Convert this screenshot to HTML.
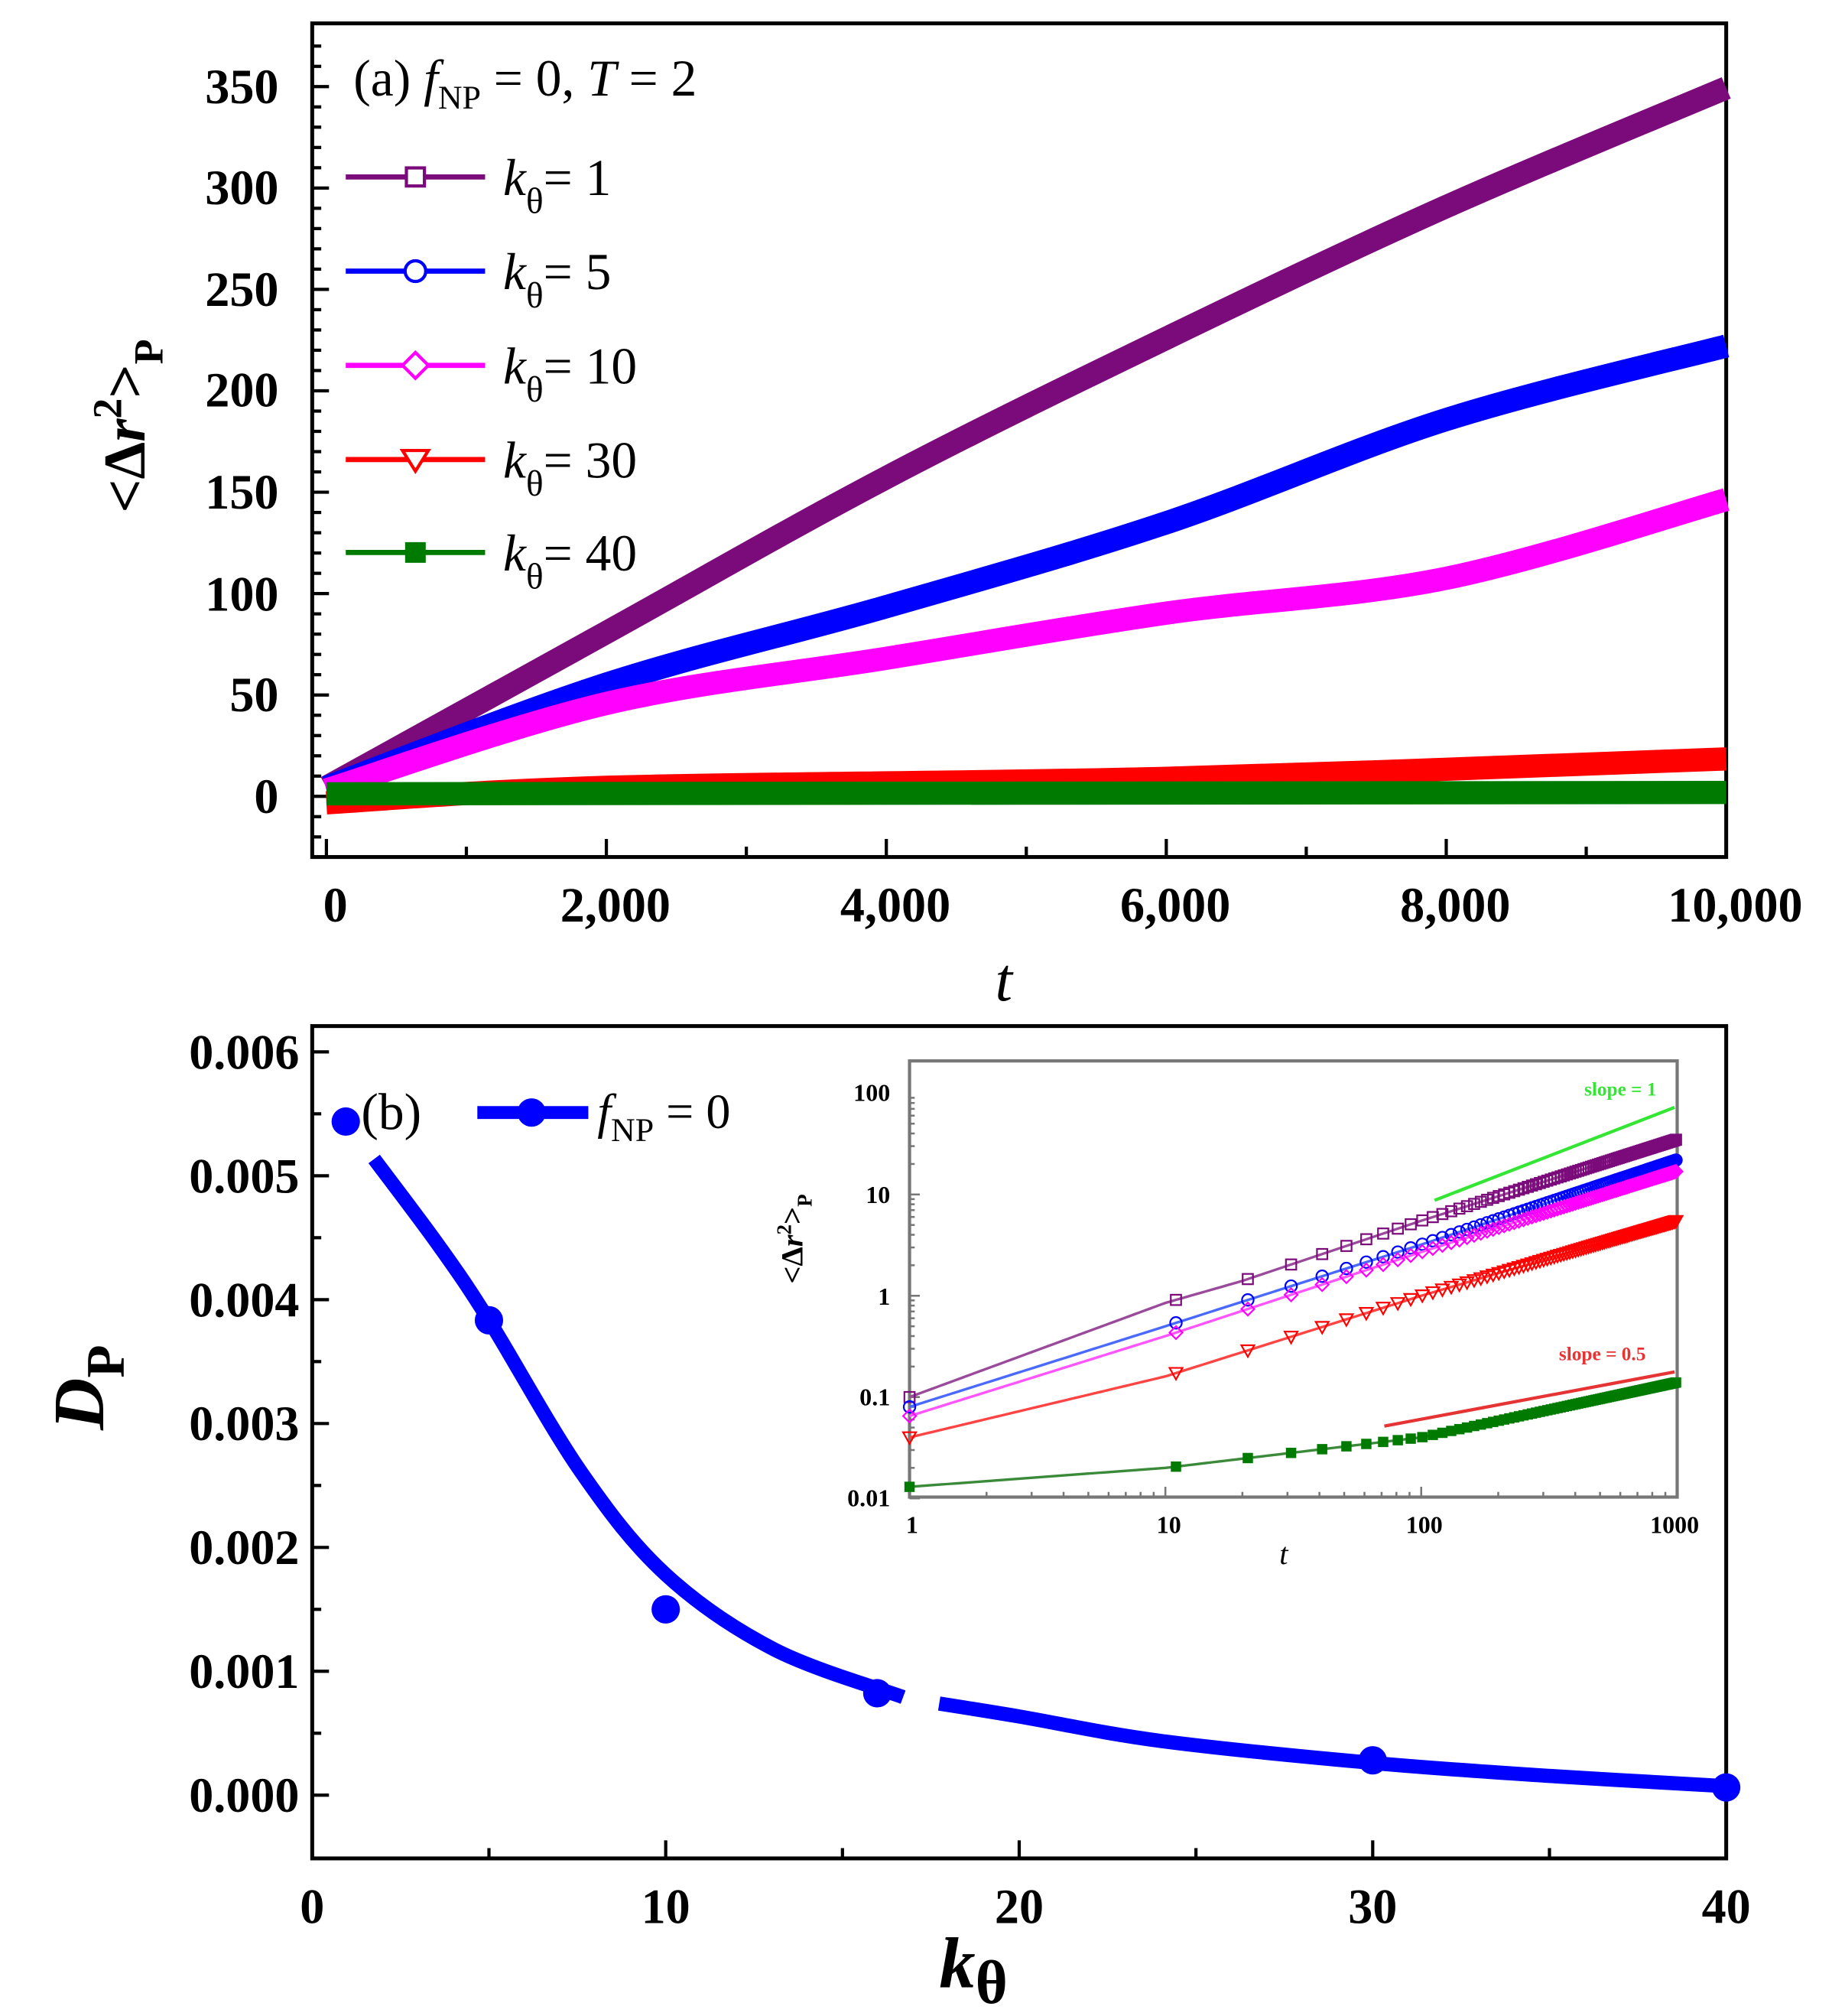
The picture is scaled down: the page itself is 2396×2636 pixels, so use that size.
<!DOCTYPE html>
<html><head><meta charset="utf-8"><style>
html,body{margin:0;padding:0;background:#fff}
svg{display:block}
text{font-family:"Liberation Serif",serif}
.tk{font-weight:bold;font-size:38px}
.it{font-weight:bold;font-size:19px}
</style></head><body>
<svg id="s" width="2396" height="2636" viewBox="0 0 1420 1562" xmlns="http://www.w3.org/2000/svg">
<rect width="1420" height="1562" fill="#fff"/>
<g id="g"></g>
<rect x="242" y="18" width="1096" height="646" fill="none" stroke="#000" stroke-width="3"/>
<g class="tk" text-anchor="end">
<text x="216" y="80">350</text><text x="216" y="158">300</text><text x="216" y="237">250</text>
<text x="216" y="315">200</text><text x="216" y="394">150</text><text x="216" y="473">100</text>
<text x="216" y="551">50</text><text x="216" y="630">0</text>
</g>
<g class="tk" text-anchor="middle">
<text x="260" y="714">0</text><text x="477" y="714">2,000</text><text x="694" y="714">4,000</text>
<text x="911" y="714">6,000</text><text x="1128" y="714">8,000</text><text x="1345" y="714">10,000</text>
</g>
<text x="778" y="775" font-size="48" font-style="italic" text-anchor="middle">t</text>
<text transform="translate(112,330) rotate(-90)" font-size="46" font-weight="bold" text-anchor="middle">&lt;Δ<tspan font-style="italic">r</tspan><tspan dy="-18" font-size="32">2</tspan><tspan dy="18">&gt;</tspan><tspan dy="14" font-size="32">P</tspan></text>
<text x="274" y="74" font-size="40">(a) <tspan font-style="italic">f</tspan><tspan dy="10" font-size="26">NP</tspan><tspan dy="-10"> = 0, </tspan><tspan font-style="italic">T</tspan> = 2</text>
<rect x="242" y="795" width="1096" height="645" fill="none" stroke="#000" stroke-width="3"/>
<g class="tk" text-anchor="end">
<text x="232" y="828">0.006</text><text x="232" y="924">0.005</text><text x="232" y="1020">0.004</text>
<text x="232" y="1116">0.003</text><text x="232" y="1212">0.002</text><text x="232" y="1308">0.001</text>
<text x="232" y="1404">0.000</text>
</g>
<g class="tk" text-anchor="middle">
<text x="242" y="1490">0</text><text x="516" y="1490">10</text><text x="790" y="1490">20</text>
<text x="1064" y="1490">30</text><text x="1338" y="1490">40</text>
</g>
<text x="728" y="1540" font-size="56" font-weight="bold" font-style="italic">k<tspan dy="12" font-style="normal" font-size="48">θ</tspan></text>
<text transform="translate(80,1075) rotate(-90)" font-size="56" font-weight="bold" text-anchor="middle"><tspan font-style="italic">D</tspan><tspan dy="16" font-size="42">P</tspan></text>
<text x="280" y="875" font-size="40">(b)</text>
<line x1="370" y1="862" x2="456" y2="862" stroke="#0000ff" stroke-width="10"/>
<circle cx="412" cy="862" r="11" fill="#0000ff"/>
<text x="463" y="874" font-size="38"><tspan font-style="italic">f</tspan><tspan dy="10" font-size="26">NP</tspan><tspan dy="-10"> = 0</tspan></text>
<rect x="705" y="822" width="595" height="338" fill="none" stroke="#777" stroke-width="2.5"/>
<g class="it" text-anchor="end">
<text x="690" y="853">100</text><text x="690" y="932">10</text><text x="690" y="1011">1</text>
<text x="690" y="1089">0.1</text><text x="690" y="1167">0.01</text>
</g>
<g class="it" text-anchor="middle">
<text x="707" y="1188">1</text><text x="906" y="1188">10</text><text x="1104" y="1188">100</text><text x="1298" y="1188">1000</text>
</g>
<text x="995" y="1212" font-size="24" font-style="italic" text-anchor="middle">t</text>
<text transform="translate(622,960) rotate(-90)" font-size="24" font-weight="bold" text-anchor="middle">&lt;Δ<tspan font-style="italic">r</tspan><tspan dy="-9" font-size="16">2</tspan><tspan dy="9">&gt;</tspan><tspan dy="7" font-size="16">P</tspan></text>
<line x1="1112" y1="930" x2="1298" y2="858" stroke="#33e633" stroke-width="2.5"/>
<text x="1256" y="849" font-size="15" font-weight="bold" fill="#33e633" text-anchor="middle">slope = 1</text>
<line x1="1073" y1="1105" x2="1298" y2="1063" stroke="#e63333" stroke-width="2.5"/>
<text x="1242" y="1054" font-size="15" font-weight="bold" fill="#e63333" text-anchor="middle">slope = 0.5</text>
</svg>
<script>
var NS="http://www.w3.org/2000/svg",S=document.getElementById('s');
function el(n,a,p){var e=document.createElementNS(NS,n);for(var k in a)e.setAttribute(k,a[k]);(p||S).appendChild(e);return e;}
function interp(pts,x){for(var i=0;i<pts.length-1;i++){if(x<=pts[i+1][0]){var t=(x-pts[i][0])/(pts[i+1][0]-pts[i][0]);return pts[i][1]+t*(pts[i+1][1]-pts[i][1]);}}return pts[pts.length-1][1];}
function smooth(pts){var d="M"+pts[0][0]+","+pts[0][1];for(var i=0;i<pts.length-1;i++){var p0=pts[i-1]||pts[i],p1=pts[i],p2=pts[i+1],p3=pts[i+2]||p2;d+=" C"+(p1[0]+(p2[0]-p0[0])/6)+","+(p1[1]+(p2[1]-p0[1])/6)+" "+(p2[0]-(p3[0]-p1[0])/6)+","+(p2[1]-(p3[1]-p1[1])/6)+" "+p2[0]+","+p2[1];}return d;}
for(var v=-30;v<=380;v+=10){var y=617-v*1.5714;if(y<20||y>662)continue;var L=(v%50==0)?13:7;el('line',{x1:242,y1:y,x2:242+L,y2:y,stroke:'#000','stroke-width':2.5});}
for(var t=0;t<=10000;t+=1000){var x=253+t*0.1085;var L=(t%2000==0)?14:8;el('line',{x1:x,y1:664,x2:x,y2:664-L,stroke:'#000','stroke-width':2.5});}
for(var v=-0.5;v<=6.2;v+=0.5){var y=1391-v*96;if(y<797||y>1438)continue;var L=(Math.abs(v%1)<1e-6)?13:7;el('line',{x1:242,y1:y,x2:242+L,y2:y,stroke:'#000','stroke-width':2.5});}
for(var k=0;k<=40;k+=5){var x=242+k*27.4;var L=(k%10==0)?14:8;el('line',{x1:x,y1:1440,x2:x,y2:1440-L,stroke:'#000','stroke-width':2.5});}
var A=[['#7b0a7b',[[253,610],[470,490],[687,370],[904,262],[1121,160],[1338,68]]],
['#0000ff',[[253,610],[470,530],[687,470],[904,405],[1121,325],[1338,268]]],
['#ff00ff',[[253,612],[470,545],[687,510],[904,475],[1121,448],[1338,387]]],
['#ff0000',[[253,622],[470,610],[904,603],[1338,588]]],
['#007a00',[[253,615],[1338,614]]]];
A.forEach(function(s){el('path',{d:smooth(s[1]),fill:'none',stroke:s[0],'stroke-width':18,'stroke-linecap':'butt'});});
var ly=[137,210,283,356,428],lab=['1','5','10','30','40'];
for(var i=0;i<5;i++){el('line',{x1:268,y1:ly[i],x2:376,y2:ly[i],stroke:A[i][0],'stroke-width':4});
 var c=A[i][0],m=ly[i];
 if(i==0)el('rect',{x:315,y:m-7,width:14,height:14,fill:'#fff',stroke:c,'stroke-width':2.5});
 if(i==1)el('circle',{cx:322,cy:m,r:8,fill:'#fff',stroke:c,'stroke-width':2.5});
 if(i==2)el('polygon',{points:'322,'+(m-10)+' 332,'+m+' 322,'+(m+10)+' 312,'+m,fill:'#fff',stroke:c,'stroke-width':2.5});
 if(i==3)el('polygon',{points:'312,'+(m-7)+' 332,'+(m-7)+' 322,'+(m+9),fill:'#fff',stroke:c,'stroke-width':2.5});
 if(i==4)el('rect',{x:314,y:m-8,width:16,height:16,fill:c});
 var tx=el('text',{x:390,y:ly[i]+14,'font-size':40});
 tx.innerHTML='<tspan font-style="italic">k</tspan><tspan dy="14" font-size="28">θ</tspan><tspan dy="-14">= '+lab[i]+'</tspan>';}
var B1=[[290,898],[340,965],[379,1023],[450,1140],[516,1220],[600,1278],[700,1315]];
el('path',{d:smooth(B1),fill:'none',stroke:'#0000ff','stroke-width':11});
var B2=[[728,1320],[790,1330],[900,1349],[1064,1366],[1200,1376],[1338,1384]];
el('path',{d:smooth(B2),fill:'none',stroke:'#0000ff','stroke-width':11});
[[268,869],[379,1023],[516,1247],[680,1312],[1064,1364],[1338,1385]].forEach(function(p){el('circle',{cx:p[0],cy:p[1],r:11,fill:'#0000ff'});});
function X(t){return 705+198.3*Math.log10(t);}function Yl(lv){return 1004-78.5*lv;}
for(var d=1;d<1000;d*=10)for(var j=1;j<10;j++){var x=X(d*j);var L=j==1?8:4;el('line',{x1:x,y1:1160,x2:x,y2:1160-L,stroke:'#777','stroke-width':1.5});}
for(var d=0.01;d<99;d*=10)for(var j=1;j<10;j++){var y=Yl(Math.log10(d*j));var L=j==1?8:4;el('line',{x1:705,y1:y,x2:705+L,y2:y,stroke:'#777','stroke-width':1.5});}
var I=[['#9a4a9a','#7b0a7b',[[0,0.1],[1,0.85],[1.3,1.4],[2,5.5],[3,35]],'sq'],
['#4a6aff','#0000ff',[[0,0.08],[1,0.5],[2,3.2],[3,22]],'ci'],
['#ff55ff','#ff00ff',[[0,0.065],[1,0.4],[2,2.7],[3,17]],'di'],
['#ff4444','#ff0000',[[0,0.04],[1,0.16],[2,1],[3,5.5]],'tr'],
['#3a8a3a','#007a00',[[0,0.013],[1,0.02],[2,0.04],[3,0.14]],'fs']];
I.forEach(function(s){var lp=s[2].map(function(p){return [p[0],Math.log10(p[1])];});
 var pts=[];for(var lt=0;lt<=3.001;lt+=0.02){pts.push([X(Math.pow(10,lt)),Yl(interp(lp,lt))]);}
 el('polyline',{points:pts.map(function(p){return p.join(',')}).join(' '),fill:'none',stroke:s[0],'stroke-width':2});
 var ts=[1];for(var t=11;t<=1000;t+=10)ts.push(t);
 ts.forEach(function(t){var x=X(t),y=Yl(interp(lp,Math.log10(t))),c=s[1];
  if(s[3]=='sq')el('rect',{x:x-4,y:y-4,width:8,height:8,fill:'none',stroke:c,'stroke-width':1.3});
  if(s[3]=='ci')el('circle',{cx:x,cy:y,r:4.5,fill:'none',stroke:c,'stroke-width':1.3});
  if(s[3]=='di')el('polygon',{points:x+','+(y-5)+' '+(x+5)+','+y+' '+x+','+(y+5)+' '+(x-5)+','+y,fill:'none',stroke:c,'stroke-width':1.3});
  if(s[3]=='tr')el('polygon',{points:(x-5)+','+(y-4)+' '+(x+5)+','+(y-4)+' '+x+','+(y+5),fill:'none',stroke:c,'stroke-width':1.3});
  if(s[3]=='fs')el('rect',{x:x-4,y:y-4,width:8,height:8,fill:c});});});
</script>
</body></html>
